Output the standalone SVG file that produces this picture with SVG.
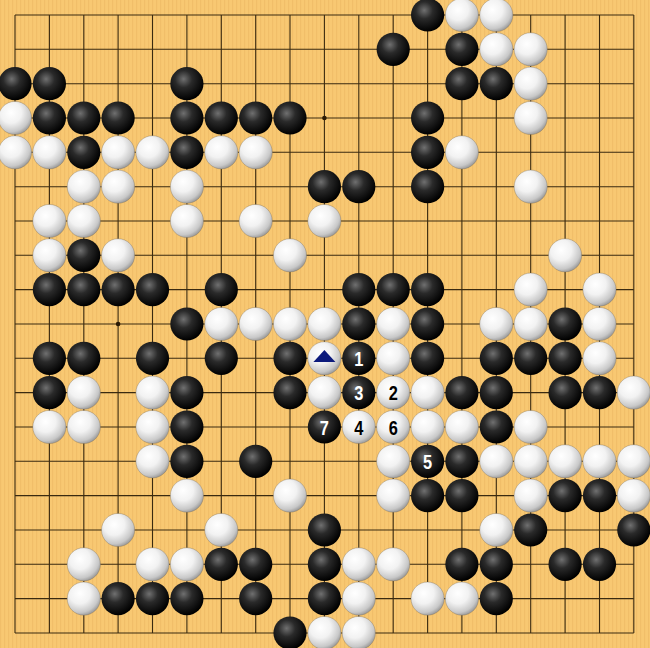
<svg xmlns="http://www.w3.org/2000/svg" xmlns:xlink="http://www.w3.org/1999/xlink" width="650" height="648" viewBox="0 0 650 648">
<defs>
<pattern id="wood" width="4" height="10" patternUnits="userSpaceOnUse">
<rect width="4" height="10" fill="#F8C872"/>
<rect x="0" width="1.2" height="10" fill="#EDB862" opacity="0.6"/>
</pattern>
<radialGradient id="gb" cx="0.4" cy="0.36" r="0.64">
<stop offset="0" stop-color="#707070"/>
<stop offset="0.4" stop-color="#2a2a2a"/>
<stop offset="1" stop-color="#000"/>
</radialGradient>
<radialGradient id="gw" cx="0.38" cy="0.34" r="0.7">
<stop offset="0" stop-color="#ffffff"/>
<stop offset="0.45" stop-color="#f2f2f2"/>
<stop offset="0.82" stop-color="#c8c8c8"/>
<stop offset="1" stop-color="#959595"/>
</radialGradient>
<circle id="B" r="16.6" fill="url(#gb)"/>
<circle id="W" r="16.6" fill="url(#gw)" stroke="#7a6a50" stroke-width="0.6" stroke-opacity="0.6"/>
</defs>
<style>
.grid line{stroke:#3a2a10;stroke-width:1.1}
.num{font-family:"Liberation Sans",Arial,sans-serif;font-size:21px;font-weight:bold;text-anchor:middle}
.nb{fill:#fff}
.nw{fill:#000}
</style>
<rect width="650" height="648" fill="url(#wood)"/>
<g id="connectors" class="grid">
<line x1="15" y1="15" x2="633.8" y2="15"/>
<line x1="15" y1="49.3" x2="633.8" y2="49.3"/>
<line x1="15" y1="83.7" x2="633.8" y2="83.7"/>
<line x1="15" y1="118" x2="633.8" y2="118"/>
<line x1="15" y1="152.3" x2="633.8" y2="152.3"/>
<line x1="15" y1="186.7" x2="633.8" y2="186.7"/>
<line x1="15" y1="221" x2="633.8" y2="221"/>
<line x1="15" y1="255.3" x2="633.8" y2="255.3"/>
<line x1="15" y1="289.6" x2="633.8" y2="289.6"/>
<line x1="15" y1="324" x2="633.8" y2="324"/>
<line x1="15" y1="358.3" x2="633.8" y2="358.3"/>
<line x1="15" y1="392.6" x2="633.8" y2="392.6"/>
<line x1="15" y1="427" x2="633.8" y2="427"/>
<line x1="15" y1="461.3" x2="633.8" y2="461.3"/>
<line x1="15" y1="495.6" x2="633.8" y2="495.6"/>
<line x1="15" y1="530" x2="633.8" y2="530"/>
<line x1="15" y1="564.3" x2="633.8" y2="564.3"/>
<line x1="15" y1="598.6" x2="633.8" y2="598.6"/>
<line x1="15" y1="633" x2="633.8" y2="633"/>
<line x1="15" y1="15" x2="15" y2="633"/>
<line x1="49.4" y1="15" x2="49.4" y2="633"/>
<line x1="83.8" y1="15" x2="83.8" y2="633"/>
<line x1="118.1" y1="15" x2="118.1" y2="633"/>
<line x1="152.5" y1="15" x2="152.5" y2="633"/>
<line x1="186.9" y1="15" x2="186.9" y2="633"/>
<line x1="221.3" y1="15" x2="221.3" y2="633"/>
<line x1="255.7" y1="15" x2="255.7" y2="633"/>
<line x1="290" y1="15" x2="290" y2="633"/>
<line x1="324.4" y1="15" x2="324.4" y2="633"/>
<line x1="358.8" y1="15" x2="358.8" y2="633"/>
<line x1="393.2" y1="15" x2="393.2" y2="633"/>
<line x1="427.6" y1="15" x2="427.6" y2="633"/>
<line x1="461.9" y1="15" x2="461.9" y2="633"/>
<line x1="496.3" y1="15" x2="496.3" y2="633"/>
<line x1="530.7" y1="15" x2="530.7" y2="633"/>
<line x1="565.1" y1="15" x2="565.1" y2="633"/>
<line x1="599.5" y1="15" x2="599.5" y2="633"/>
<line x1="633.8" y1="15" x2="633.8" y2="633"/>
</g>
<g id="hoshi" fill="#2a1a05">
<circle cx="118.1" cy="118" r="2.3"/>
<circle cx="324.4" cy="118" r="2.3"/>
<circle cx="118.1" cy="324" r="2.3"/>
</g>
<g id="stones">
<use href="#B" x="427.6" y="15"/><use href="#W" x="461.9" y="15"/><use href="#W" x="496.3" y="15"/>
<use href="#B" x="393.2" y="49.3"/><use href="#B" x="461.9" y="49.3"/><use href="#W" x="496.3" y="49.3"/><use href="#W" x="530.7" y="49.3"/>
<use href="#B" x="15" y="83.7"/><use href="#B" x="49.4" y="83.7"/><use href="#B" x="186.9" y="83.7"/><use href="#B" x="461.9" y="83.7"/><use href="#B" x="496.3" y="83.7"/><use href="#W" x="530.7" y="83.7"/>
<use href="#W" x="15" y="118"/><use href="#B" x="49.4" y="118"/><use href="#B" x="83.8" y="118"/><use href="#B" x="118.1" y="118"/><use href="#B" x="186.9" y="118"/><use href="#B" x="221.3" y="118"/><use href="#B" x="255.7" y="118"/><use href="#B" x="290" y="118"/><use href="#B" x="427.6" y="118"/><use href="#W" x="530.7" y="118"/>
<use href="#W" x="15" y="152.3"/><use href="#W" x="49.4" y="152.3"/><use href="#B" x="83.8" y="152.3"/><use href="#W" x="118.1" y="152.3"/><use href="#W" x="152.5" y="152.3"/><use href="#B" x="186.9" y="152.3"/><use href="#W" x="221.3" y="152.3"/><use href="#W" x="255.7" y="152.3"/><use href="#B" x="427.6" y="152.3"/><use href="#W" x="461.9" y="152.3"/>
<use href="#W" x="83.8" y="186.7"/><use href="#W" x="118.1" y="186.7"/><use href="#W" x="186.9" y="186.7"/><use href="#B" x="324.4" y="186.7"/><use href="#B" x="358.8" y="186.7"/><use href="#B" x="427.6" y="186.7"/><use href="#W" x="530.7" y="186.7"/>
<use href="#W" x="49.4" y="221"/><use href="#W" x="83.8" y="221"/><use href="#W" x="186.9" y="221"/><use href="#W" x="255.7" y="221"/><use href="#W" x="324.4" y="221"/>
<use href="#W" x="49.4" y="255.3"/><use href="#B" x="83.8" y="255.3"/><use href="#W" x="118.1" y="255.3"/><use href="#W" x="290" y="255.3"/><use href="#W" x="565.1" y="255.3"/>
<use href="#B" x="49.4" y="289.6"/><use href="#B" x="83.8" y="289.6"/><use href="#B" x="118.1" y="289.6"/><use href="#B" x="152.5" y="289.6"/><use href="#B" x="221.3" y="289.6"/><use href="#B" x="358.8" y="289.6"/><use href="#B" x="393.2" y="289.6"/><use href="#B" x="427.6" y="289.6"/><use href="#W" x="530.7" y="289.6"/><use href="#W" x="599.5" y="289.6"/>
<use href="#B" x="186.9" y="324"/><use href="#W" x="221.3" y="324"/><use href="#W" x="255.7" y="324"/><use href="#W" x="290" y="324"/><use href="#W" x="324.4" y="324"/><use href="#B" x="358.8" y="324"/><use href="#W" x="393.2" y="324"/><use href="#B" x="427.6" y="324"/><use href="#W" x="496.3" y="324"/><use href="#W" x="530.7" y="324"/><use href="#B" x="565.1" y="324"/><use href="#W" x="599.5" y="324"/>
<use href="#B" x="49.4" y="358.3"/><use href="#B" x="83.8" y="358.3"/><use href="#B" x="152.5" y="358.3"/><use href="#B" x="221.3" y="358.3"/><use href="#B" x="290" y="358.3"/><use href="#W" x="324.4" y="358.3"/><use href="#B" x="358.8" y="358.3"/><use href="#W" x="393.2" y="358.3"/><use href="#B" x="427.6" y="358.3"/><use href="#B" x="496.3" y="358.3"/><use href="#B" x="530.7" y="358.3"/><use href="#B" x="565.1" y="358.3"/><use href="#W" x="599.5" y="358.3"/>
<use href="#B" x="49.4" y="392.6"/><use href="#W" x="83.8" y="392.6"/><use href="#W" x="152.5" y="392.6"/><use href="#B" x="186.9" y="392.6"/><use href="#B" x="290" y="392.6"/><use href="#W" x="324.4" y="392.6"/><use href="#B" x="358.8" y="392.6"/><use href="#W" x="393.2" y="392.6"/><use href="#W" x="427.6" y="392.6"/><use href="#B" x="461.9" y="392.6"/><use href="#B" x="496.3" y="392.6"/><use href="#B" x="565.1" y="392.6"/><use href="#B" x="599.5" y="392.6"/><use href="#W" x="633.8" y="392.6"/>
<use href="#W" x="49.4" y="427"/><use href="#W" x="83.8" y="427"/><use href="#W" x="152.5" y="427"/><use href="#B" x="186.9" y="427"/><use href="#B" x="324.4" y="427"/><use href="#W" x="358.8" y="427"/><use href="#W" x="393.2" y="427"/><use href="#W" x="427.6" y="427"/><use href="#W" x="461.9" y="427"/><use href="#B" x="496.3" y="427"/><use href="#W" x="530.7" y="427"/>
<use href="#W" x="152.5" y="461.3"/><use href="#B" x="186.9" y="461.3"/><use href="#B" x="255.7" y="461.3"/><use href="#W" x="393.2" y="461.3"/><use href="#B" x="427.6" y="461.3"/><use href="#B" x="461.9" y="461.3"/><use href="#W" x="496.3" y="461.3"/><use href="#W" x="530.7" y="461.3"/><use href="#W" x="565.1" y="461.3"/><use href="#W" x="599.5" y="461.3"/><use href="#W" x="633.8" y="461.3"/>
<use href="#W" x="186.9" y="495.6"/><use href="#W" x="290" y="495.6"/><use href="#W" x="393.2" y="495.6"/><use href="#B" x="427.6" y="495.6"/><use href="#B" x="461.9" y="495.6"/><use href="#W" x="530.7" y="495.6"/><use href="#B" x="565.1" y="495.6"/><use href="#B" x="599.5" y="495.6"/><use href="#W" x="633.8" y="495.6"/>
<use href="#W" x="118.1" y="530"/><use href="#W" x="221.3" y="530"/><use href="#B" x="324.4" y="530"/><use href="#W" x="496.3" y="530"/><use href="#B" x="530.7" y="530"/><use href="#B" x="633.8" y="530"/>
<use href="#W" x="83.8" y="564.3"/><use href="#W" x="152.5" y="564.3"/><use href="#W" x="186.9" y="564.3"/><use href="#B" x="221.3" y="564.3"/><use href="#B" x="255.7" y="564.3"/><use href="#B" x="324.4" y="564.3"/><use href="#W" x="358.8" y="564.3"/><use href="#W" x="393.2" y="564.3"/><use href="#B" x="461.9" y="564.3"/><use href="#B" x="496.3" y="564.3"/><use href="#B" x="565.1" y="564.3"/><use href="#B" x="599.5" y="564.3"/>
<use href="#W" x="83.8" y="598.6"/><use href="#B" x="118.1" y="598.6"/><use href="#B" x="152.5" y="598.6"/><use href="#B" x="186.9" y="598.6"/><use href="#B" x="255.7" y="598.6"/><use href="#B" x="324.4" y="598.6"/><use href="#W" x="358.8" y="598.6"/><use href="#W" x="427.6" y="598.6"/><use href="#W" x="461.9" y="598.6"/><use href="#B" x="496.3" y="598.6"/>
<use href="#B" x="290" y="633"/><use href="#W" x="324.4" y="633"/><use href="#W" x="358.8" y="633"/>
</g>
<g id="marks">
<polygon points="324.4,350 313.4,362 335.4,362" fill="#0c1a7c"/>
<text class="num nb" transform="translate(358.8,365.8) scale(0.78,1)">1</text>
<text class="num nw" transform="translate(393.2,400.1) scale(0.78,1)">2</text>
<text class="num nb" transform="translate(358.8,400.1) scale(0.78,1)">3</text>
<text class="num nw" transform="translate(358.8,434.5) scale(0.78,1)">4</text>
<text class="num nb" transform="translate(427.6,468.8) scale(0.78,1)">5</text>
<text class="num nw" transform="translate(393.2,434.5) scale(0.78,1)">6</text>
<text class="num nb" transform="translate(324.4,434.5) scale(0.78,1)">7</text>
</g>
</svg>
